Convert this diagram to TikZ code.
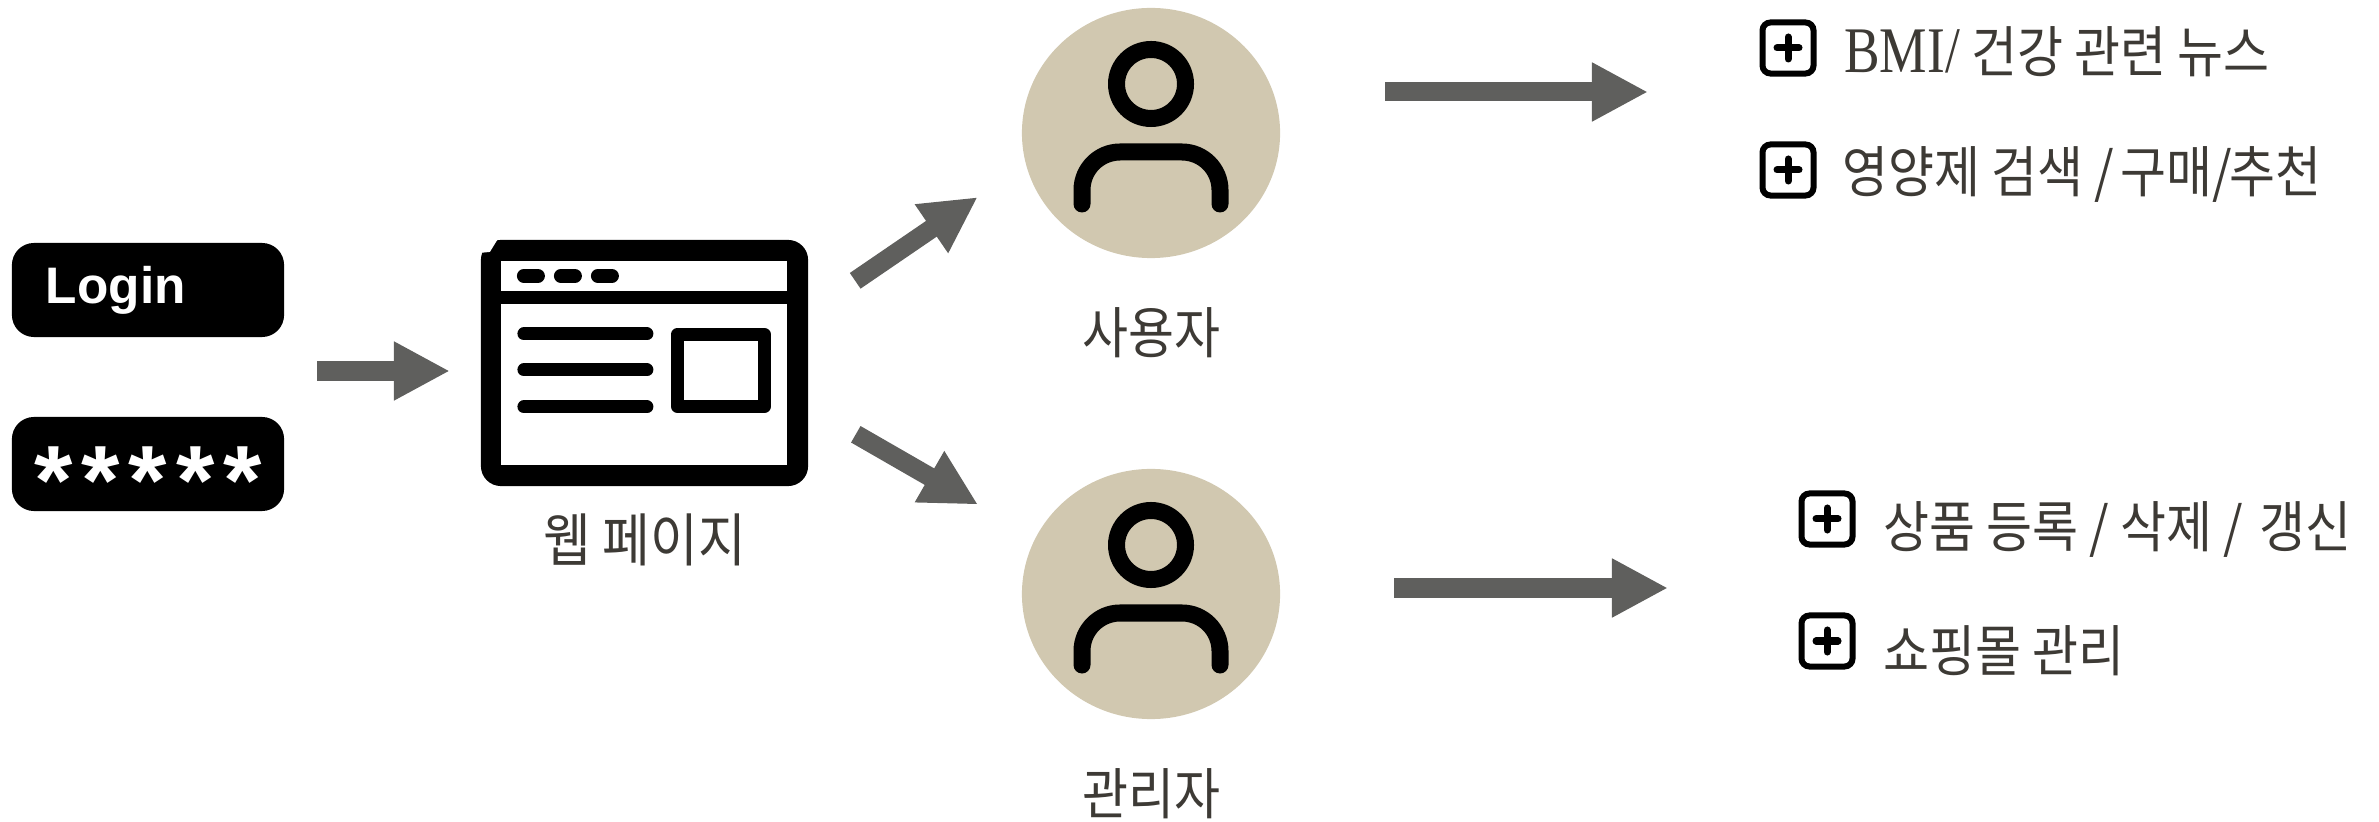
\documentclass[tikz,border=0pt]{standalone}
\usepackage{fontspec}
\setmainfont{Liberation Serif}
\setsansfont{Liberation Sans}
\newfontfamily\krfont{Noto Sans CJK KR}[FakeStretch=0.9]
\newfontfamily\latinfont{Liberation Serif}[FakeStretch=0.82]
\usetikzlibrary{arrows.meta,positioning,shapes.geometric}
\definecolor{arrowgray}{HTML}{5F5F5D}
\definecolor{personbg}{HTML}{D1C8B0}
\definecolor{inkgray}{HTML}{3D3A35}
\newcommand{\krtext}{\fontsize{15.8pt}{18pt}\selectfont\krfont}
\newcommand{\starsep}{\hspace{0.09cm}}
\tikzset{
flow/.style={arrowgray, line width=0.19cm, -{Triangle[length=0.56cm,width=0.55cm]}},
fieldbox/.style={fill=black, text=white, rounded corners=0.22cm, minimum width=2.72cm,
	minimum height=0.94cm, inner xsep=0.34cm, inner ysep=0pt, outer sep=0pt},
persona/.style={ellipse, fill=personbg, minimum width=2.58cm, minimum height=2.5cm,
	inner sep=0pt, outer sep=0pt},
caption/.style={text=inkgray, inner sep=0pt, font=\krtext},
plusbox/.style={draw, rounded corners=0.08cm, line width=0.06cm, minimum width=0.51cm,
	minimum height=0.51cm, inner sep=0pt, path picture={
	\draw[line width=0.07cm, line cap=round]
		([xshift=-0.11cm]path picture bounding box.center) -- ([xshift=0.11cm]path picture bounding box.center)
		([yshift=-0.11cm]path picture bounding box.center) -- ([yshift=0.11cm]path picture bounding box.center);
	}},
person/.pic={
	\draw[line width=0.17cm] (0,-49) circle (34.5);
	\draw[line width=0.17cm, line cap=round, rounded corners=0.38cm] (-69,71) -- (-69,19) -- (69,19) -- (69,71);
}
}

\begin{document}
\begin{tikzpicture}[x=0.01cm, y=-0.01cm]
	\useasboundingbox (0,0) rectangle (2379,822);
	% login form
	\node[fieldbox, text width=2.04cm, align=left, font=\sffamily\bfseries\fontsize{14.6pt}{16pt}\selectfont] (login) at (148,290) {Login};
	\node[fieldbox, inner xsep=0pt, font=\sffamily\bfseries\fontsize{28pt}{30pt}\selectfont] (password) at (148,464)
		{\raisebox{-0.5cm}[0pt][0pt]{*\starsep*\starsep*\starsep*\starsep*}};
	\coordinate (formout) at (317,371);

	% web page window
	\node[fill=black, rounded corners=0.2cm, minimum width=3.27cm, minimum height=2.46cm, inner sep=0pt, outer sep=0pt] (window) at (644.5,363) {};
	\begin{scope}[shift={(window.north west)}]
		\fill[white] (-1,-1) -- (17,-1) -- (9,12) -- (-1,13) -- cycle;
		\fill[white] (20,21) rectangle (306,51);
		\fill[white] (20,64) rectangle (306,225);
		\foreach \dotx in {43,80,117}
			\draw[line width=0.14cm, line cap=round] (\dotx,36) -- +(14,0);
		\foreach \liney in {94,130,167}
			\draw[line width=0.13cm, line cap=round] (43,\liney) -- (166,\liney);
		\draw[line width=0.13cm, line join=round] (196.5,94.5) rectangle (283.5,166.5);
	\end{scope}
	\node[caption, below=0.27cm of window, font=\fontsize{16.4pt}{18pt}\selectfont\krfont] (webpage) {웹 페이지};

	% user and admin
	\node[persona] (user) at (1151,133) {};
	\pic at (user.center) {person};
	\node[caption, below=0.49cm of user] (usercap) {사용자};
	\node[persona] (admin) at (1151,594) {};
	\pic at (admin.center) {person};
	\node[caption, below=0.49cm of admin] (admincap) {관리자};

	% what each one can do
	\node[plusbox] (item1) at (1788,48) {};
	\node[caption, right=0.27cm of item1, yshift=-0.04cm] (item1text) {{\fontsize{18.5pt}{18pt}\selectfont\latinfont BMI/} 건강 관련 뉴스};
	\node[plusbox] (item2) at (1788,170) {};
	\node[caption, right=0.25cm of item2, yshift=-0.05cm] (item2text) {영양제 검색 /\hspace{-0.05cm} 구매/\hspace{-0.03cm}추천};
	\node[plusbox] (item3) at (1827,519) {};
	\node[caption, right=0.27cm of item3, yshift=-0.1cm] (item3text) {상품 등록 / 삭제 /\hspace{0.05cm} 갱신};
	\node[plusbox] (item4) at (1827,641) {};
	\node[caption, right=0.27cm of item4, yshift=-0.1cm] (item4text) {쇼핑몰 관리};
	\coordinate (usertip) at (1648,92);
	\coordinate (admintip) at (1668,588);

	\draw[flow, shorten >=0.31cm] (formout) -- (window.west |- formout);
	\draw[flow, shorten <=0.57cm, shorten >=0.585cm] (window.17.5) -- (user.194.7);
	\draw[flow, shorten <=0.55cm, shorten >=0.665cm] (window.345.3) -- (admin.154.8);
	\draw[flow, shorten <=1.12cm] (user.18.6 |- usertip) -- (usertip);
	\draw[flow, shorten <=1.14cm] (admin.2.7 |- admintip) -- (admintip);
\end{tikzpicture}
\end{document}
